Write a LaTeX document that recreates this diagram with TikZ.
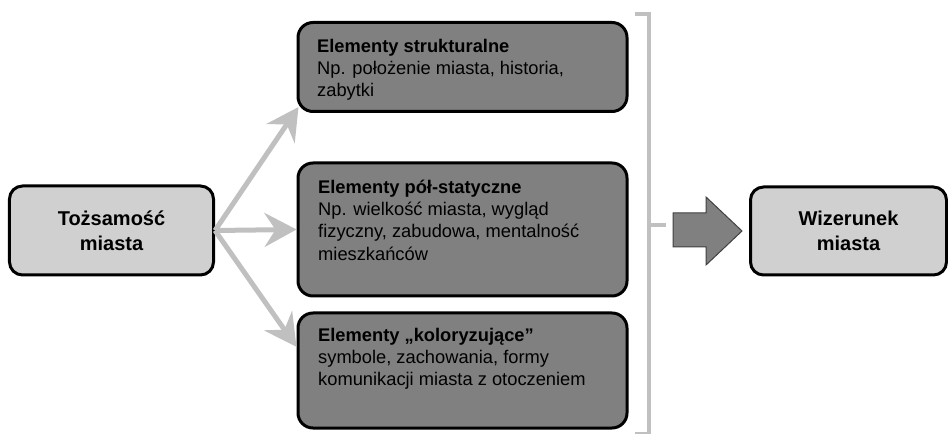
\documentclass[tikz,border=0pt]{standalone}
\usepackage{fontspec}
\setmainfont{Liberation Sans}
\usetikzlibrary{arrows.meta,calc}
\definecolor{boxdark}{HTML}{808080}
\definecolor{boxlight}{HTML}{D0D0D0}
\definecolor{conn}{HTML}{C0C0C0}
\definecolor{arrowedge}{HTML}{404040}
\tikzset{
  endbox/.style={draw=black, line width=3bp, fill=boxlight, rounded corners=13bp, inner sep=0pt, align=center, font=\fontsize{20bp}{25bp}\selectfont\bfseries},
  midbox/.style={draw=black, line width=3bp, fill=boxdark, rounded corners=15bp, inner sep=0pt, minimum width=329bp},
  boxtext/.style={anchor=north west, inner sep=0pt, align=left, font=\fontsize{18.3bp}{22.3bp}\selectfont, text=black},
  flow/.style={draw=conn, line width=5bp, -{Stealth[length=32bp,width=34bp,inset=11bp]}},
  bracket/.style={draw=conn, line width=4.5bp},
  blockarrow/.style={fill=boxdark, draw=arrowedge, line width=1bp}
}
\newcommand{\firstline}{\rule{0pt}{18bp}}
\begin{document}
\begin{tikzpicture}[x=1bp,y=-1bp]
\useasboundingbox (0,0) rectangle (948,434);
% nodes
\node[endbox, minimum width=204bp, minimum height=89bp] (L) at (111.5,230.5) {Tożsamość\\miasta};
\node[endbox, minimum width=196bp, minimum height=88bp] (R) at (848.5,231) {Wizerunek\\miasta};
\node[midbox, minimum height=89bp] (B1) at (462.5,67) {};
\node[midbox, minimum height=133bp] (B2) at (462.5,229.5) {};
\node[midbox, minimum height=115bp] (B3) at (462.5,370.5) {};
% texts
\node[boxtext] (T1) at (317,34) {\firstline\textbf{Elementy strukturalne}\\Np. położenie miasta, historia,\\zabytki};
\node[boxtext] (T2) at (318,175) {\firstline\textbf{Elementy pół-statyczne}\\Np. wielkość miasta, wygląd\\fizyczny, zabudowa, mentalność\\mieszkańców};
\node[boxtext] (T3) at (318,323) {\firstline\textbf{Elementy „koloryzujące”}\\symbole, zachowania, formy\\komunikacji miasta z otoczeniem};
% connectors
\draw[flow] (L.east) -- ($(B1.south west)+(2,-6)$);
\draw[flow] (L.east) -- (B2.west);
\draw[flow] (L.east) -- ($(B3.north west)!0.3!(B3.south west)$);
% bracket
\draw[bracket] (635,14) -- (649,14) -- (649,440);
\draw[bracket] (649,225) -- (666,225);
\draw[bracket] (635,434) -- (649,434);
% block arrow
\draw[blockarrow] (673,213) -- (706,213) -- (706,197) -- (742,231) -- (706,265) -- (706,247) -- (673,247) -- cycle;
\end{tikzpicture}
\end{document}
